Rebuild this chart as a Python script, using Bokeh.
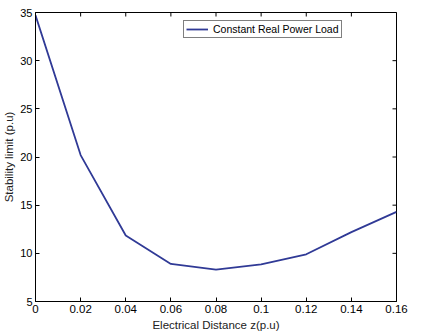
import math
from bokeh.plotting import figure
from bokeh.models import Range1d, FixedTicker, Legend, LegendItem
from bokeh.embed import file_html
from bokeh.resources import INLINE

z = [0.0, 0.02, 0.04, 0.06, 0.08, 0.10, 0.12, 0.14, 0.16]
limit = [34.7, 20.2, 11.85, 8.9, 8.3, 8.85, 9.9, 12.2, 14.3]
x_ticks = [0, 0.02, 0.04, 0.06, 0.08, 0.1, 0.12, 0.14, 0.16]
y_ticks = [5, 10, 15, 20, 25, 30, 35]
series_name = "Constant Real Power Load"

FONT = "Liberation Sans"

p = figure(width=414, height=335, output_backend="svg", toolbar_location=None,
           x_range=Range1d(x_ticks[0], x_ticks[-1]), y_range=Range1d(y_ticks[0], y_ticks[-1]),
           min_border_left=34, min_border_right=18, min_border_top=12, min_border_bottom=34)
p.background_fill_color = "white"
p.border_fill_color = "white"
p.outline_line_color = "black"
p.outline_line_width = 1
p.xgrid.visible = False
p.ygrid.visible = False

r = p.line(z, limit, line_color="#303a96", line_width=1.8)

# box ticks on the top and right edges (MATLAB style)
p.scatter(x_ticks, [y_ticks[-1]] * len(x_ticks), marker="dash", size=8,
          angle=math.pi / 2, line_color="black", line_width=1)
p.scatter([x_ticks[-1]] * len(y_ticks), y_ticks, marker="dash", size=8,
          line_color="black", line_width=1)

def style(ax, size):
    ax.axis_line_color = "black"
    ax.major_tick_in = 4
    ax.major_tick_out = 0
    ax.minor_tick_in = 0
    ax.minor_tick_out = 0
    ax.major_tick_line_color = "black"
    ax.major_label_text_font = FONT
    ax.major_label_text_font_size = size
    ax.major_label_text_color = "black"
    ax.major_label_standoff = 3
    ax.axis_label_text_font = FONT
    ax.axis_label_text_font_size = "11.5px"
    ax.axis_label_text_font_style = "normal"
    ax.axis_label_text_color = "#222222"

p.xaxis.ticker = FixedTicker(ticks=x_ticks)
p.yaxis.ticker = FixedTicker(ticks=y_ticks)
p.xaxis.major_label_overrides = {0: "0", 0.1: "0.1"}
style(p.xaxis[0], "11.5px")
style(p.yaxis[0], "11px")
p.xaxis.axis_label = "Electrical Distance z(p.u)"
p.yaxis.axis_label = "Stability limit (p.u)"
p.xaxis.axis_label_standoff = 3
p.yaxis.axis_label_standoff = 2
p.yaxis.major_label_standoff = 3

legend = Legend(items=[LegendItem(label=series_name, renderers=[r])],
                location=(148, 263))
legend.label_text_font = FONT
legend.label_text_font_size = "10.5px"
legend.label_text_color = "black"
legend.border_line_color = "black"
legend.border_line_width = 1
legend.padding = 2
legend.margin = 0
legend.glyph_width = 22
legend.glyph_height = 10
legend.label_standoff = 5
legend.label_height = 10
legend.background_fill_color = "white"
p.add_layout(legend, "center")

open("out.html", "w").write(file_html(p, INLINE))
